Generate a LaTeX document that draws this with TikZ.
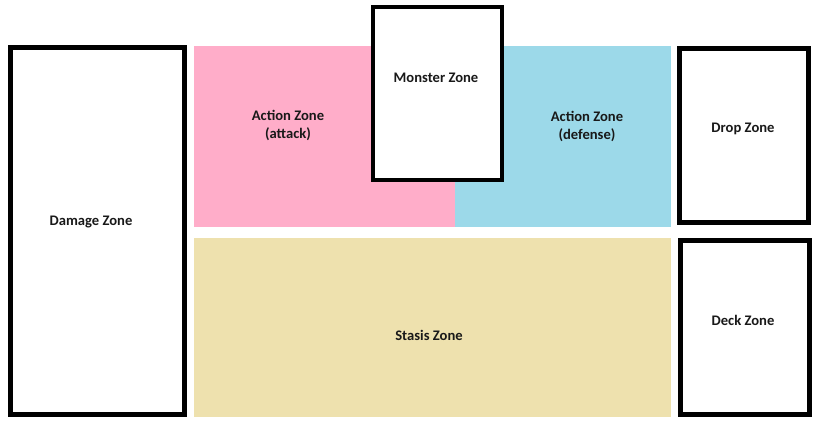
\documentclass[tikz,border=0pt]{standalone}
\usepackage{fontspec}
\setmainfont{Carlito}
\usepackage{tikz}

\definecolor{attackpink}{HTML}{FFADC9}
\definecolor{defenseblue}{HTML}{9CD9E9}
\definecolor{stasistan}{HTML}{EEE1AE}

\begin{document}
\begin{tikzpicture}[x=1pt, y=-1pt,
    zonebox/.style={draw=black, line width=5pt, fill=white},
    zonetext/.style={font=\fontsize{14.6}{18}\selectfont\bfseries, align=center, text=black!90}]
    % 1pt = 1px of the 819x424 board layout
    \useasboundingbox (0,0) rectangle (819,424);
    % coloured play areas
    \fill[attackpink] (194,46) rectangle (455,227);
    \fill[defenseblue] (455,46) rectangle (671,227);
    \fill[stasistan] (194,238) rectangle (671,417);
    % outlined card zones
    \draw[zonebox] (10.5,47.5) rectangle (184.5,414.5);
    \draw[zonebox, line width=4pt] (373,7) rectangle (502,180);
    \draw[zonebox] (679.5,48.5) rectangle (808.5,222.5);
    \draw[zonebox] (680.5,240.5) rectangle (809.5,414.5);
    % labels
    \node[zonetext] (damage) at (91,222) {Damage Zone};
    \node[zonetext] (attack) at (288,125) {Action Zone\\(attack)};
    \node[zonetext] (monster) at (436,78) {Monster Zone};
    \node[zonetext] (defense) at (587,126) {Action Zone\\(defense)};
    \node[zonetext] (stasis) at (429,335) {Stasis Zone};
    \node[zonetext] (drop) at (743,129) {Drop Zone};
    \node[zonetext] (deck) at (743,320) {Deck Zone};
\end{tikzpicture}
\end{document}
